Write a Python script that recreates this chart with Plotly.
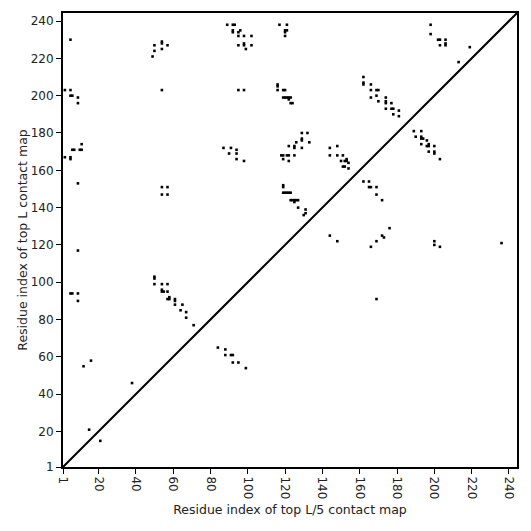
import plotly.graph_objects as go

seq_len = 244.3
tick_vals = [1, 20, 40, 60, 80, 100, 120, 140, 160, 180, 200, 220, 240]

# contacts above the diagonal (i, j)
upper_pairs = [
    (5, 230), (2, 203), (5, 203), (5, 200), (6, 200), (9, 199), (9, 196),
    (50, 227), (54, 228), (54, 229), (57, 227), (50, 224), (54, 225), (49, 221),
    (54, 203),
    (89, 238), (92, 238), (93, 238), (92, 235), (92, 234), (95, 234), (96, 235),
    (95, 232), (98, 232), (102, 232), (95, 227), (98, 228), (98, 227), (102, 227), (99, 225),
    (117, 238), (121, 238), (120, 235), (121, 235), (120, 234), (120, 232),
    (95, 203), (98, 203),
    (116, 206), (116, 205), (116, 203), (119, 203), (120, 203), (119, 199), (120, 199),
    (121, 199), (122, 199), (123, 199), (122, 198), (123, 196), (124, 196),
    (162, 210), (162, 206), (162, 207), (166, 206), (166, 203), (169, 203), (170, 203),
    (166, 199), (169, 200), (170, 197), (174, 199), (174, 196), (174, 197), (177, 196),
    (174, 193), (177, 193), (178, 193), (181, 192), (178, 190), (181, 189),
    (198, 238), (198, 233), (202, 230), (203, 230), (206, 230), (203, 227), (206, 227),
    (206, 228), (219, 226), (213, 218),
    (11, 174), (6, 171), (7, 171), (10, 171), (11, 171), (2, 167), (5, 166), (5, 167),
    (9, 153), (54, 151), (57, 151), (54, 147), (57, 147),
    (87, 172), (91, 172), (94, 171), (90, 169), (94, 169), (94, 166), (98, 165),
    (129, 180), (132, 180), (129, 176), (129, 177), (126, 175), (133, 175), (122, 173),
    (125, 172), (125, 173), (129, 172), (118, 168), (119, 168), (121, 168), (122, 168),
    (125, 168), (119, 166), (122, 165),
    (144, 172), (148, 173), (144, 168), (148, 168), (151, 168), (150, 165), (152, 165),
    (153, 165), (153, 166), (154, 164), (151, 162), (152, 162), (154, 161),
    (119, 152), (119, 151), (119, 148), (120, 148), (121, 148), (122, 148), (123, 148),
    (123, 144), (124, 144), (125, 144), (126, 144), (127, 144), (125, 143), (127, 140),
    (131, 139), (131, 137), (130, 136),
    (9, 117), (5, 94), (6, 94), (9, 94), (9, 90),
    (50, 102), (50, 103), (50, 99), (54, 99), (57, 99), (54, 95), (54, 96), (55, 95),
    (57, 95), (57, 91), (58, 91), (58, 92), (61, 91), (61, 90), (61, 88),
    (65, 88), (64, 85), (67, 84), (67, 81), (71, 77),
    (12, 55), (16, 58), (38, 46), (15, 21),
]

# contacts below the diagonal (i, j)
lower_pairs = [
    (189, 181), (193, 181), (190, 178), (193, 177), (194, 177), (193, 178), (196, 176),
    (193, 174), (196, 173), (197, 173), (197, 174), (200, 173), (197, 170), (200, 169),
    (200, 170), (203, 166),
    (162, 154), (165, 154), (165, 151), (166, 151), (169, 151), (169, 147), (172, 144),
    (176, 129), (172, 125), (173, 124),
    (144, 125), (148, 122), (169, 122), (166, 119), (169, 91),
    (200, 122), (200, 120), (203, 119), (236, 121),
    (21, 15), (84, 65), (88, 64), (88, 61), (91, 61), (92, 61), (92, 57), (95, 57), (99, 54),
]

all_pairs = upper_pairs + lower_pairs
cx = [p[0] for p in all_pairs]
cy = [p[1] for p in all_pairs]

fig = go.Figure()
fig.add_trace(go.Scatter(
    x=cx, y=cy, mode="markers",
    marker=dict(symbol="square", size=2.6, color="black", line=dict(width=0)),
    hoverinfo="x+y", showlegend=False,
))
fig.add_trace(go.Scatter(
    x=[1, seq_len], y=[1, seq_len], mode="lines",
    line=dict(color="black", width=2), showlegend=False, hoverinfo="skip",
))

axis_common = dict(
    range=[1, seq_len], tickmode="array", tickvals=tick_vals,
    ticktext=[str(v) for v in tick_vals],
    showline=True, linecolor="black", linewidth=2, mirror=True,
    ticks="outside", ticklen=5, tickwidth=1.3, tickcolor="black",
    showgrid=False, zeroline=False, automargin=False,
    tickfont=dict(family="DejaVu Sans", size=12, color="#222"),
)

fig.update_layout(
    width=523, height=523,
    margin=dict(l=55, r=14, t=5, b=64),
    paper_bgcolor="white", plot_bgcolor="white",
    xaxis=dict(**axis_common, tickangle=90,
               title=dict(text="Residue index of top L/5 contact map",
                          font=dict(family="DejaVu Sans", size=12.5, color="#222"),
                          standoff=7)),
    yaxis=dict(**axis_common,
               title=dict(text="Residue index of top L contact map",
                          font=dict(family="DejaVu Sans", size=12.5, color="#222"),
                          standoff=0)),
)

fig.write_html("out.html")
